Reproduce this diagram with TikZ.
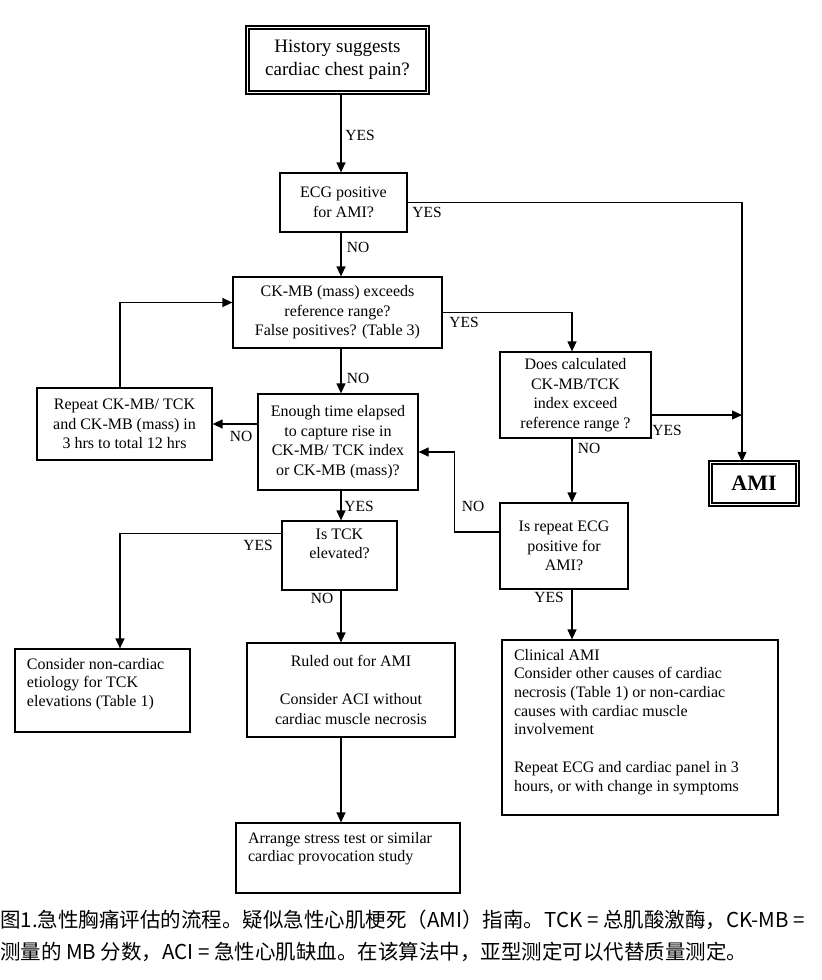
\documentclass[tikz,border=0pt]{standalone}
\usepackage{fontspec}
\setmainfont{Liberation Serif}
\newfontfamily\cjk{Noto Sans CJK SC}
\usetikzlibrary{arrows.meta}

\newcommand{\topbox}[4][\raggedright]{\parbox[c][#3][t]{#2}{#1#4}}

\begin{document}
\begin{tikzpicture}[x=1pt, y=-1pt,
  box/.style={draw, line width=1.2pt, align=center, inner sep=0pt,
              font=\fontsize{16}{19.5}\selectfont},
  endbox/.style={box, double, double distance=1.8pt, line width=1.4pt},
  note/.style={draw, line width=1.2pt, inner xsep=12pt, inner ysep=9pt,
               font=\fontsize{16}{18.7}\selectfont},
  lbl/.style={inner sep=1pt, font=\fontsize{15.5}{18}\selectfont},
  arr/.style={-{Triangle[length=10pt, width=9pt]}, line width=1.2pt},
]
\fill[white] (0,0) rectangle (822,980);
\useasboundingbox (0,0) rectangle (822,980);

\coordinate (mcol) at (341,0);
\coordinate (rcol) at (572,0);
\coordinate (acol) at (742,0);
\coordinate (lcol) at (120,0);

\node[endbox, minimum width=180pt, minimum height=65pt, font=\fontsize{19}{23}\selectfont]
  (hist) at (337.5,60) {History suggests\\cardiac chest pain?};
\node[box, minimum width=127pt, minimum height=59pt] (ecg) at (343.5,202.5) {ECG positive\\for AMI?};
\node[box, minimum width=209pt, minimum height=71pt] (ckmb) at (337.5,312.5)
  {CK-MB (mass) exceeds\\reference range?\\False positives? (Table 3)};
\node[box, minimum width=175pt, minimum height=72pt] (rept) at (124.5,424)
  {Repeat CK-MB/ TCK\\and CK-MB (mass) in\\3 hrs to total 12 hrs};
\node[box, minimum width=160pt, minimum height=96pt] (enough) at (338,442)
  {Enough time elapsed\\to capture rise in\\CK-MB/ TCK index\\or CK-MB (mass)?};
\node[box, minimum width=151pt, minimum height=86pt] (does) at (575.5,395)
  {Does calculated\\CK-MB/TCK\\index exceed\\reference range ?};
\node[endbox, minimum width=87pt, minimum height=42pt, font=\fontsize{22}{24}\selectfont\bfseries]
  (ami) at (754,483.5) {AMI};
\node[note, inner xsep=0pt, inner ysep=8pt] (tck) at (339.5,555.5)
  {\topbox[\centering]{115pt}{53pt}{Is TCK\\elevated?}};
\node[box, minimum width=128pt, minimum height=86pt] (rep) at (564,546)
  {Is repeat ECG\\positive for\\AMI?};
\node[note] (noncard) at (102.5,690.5)
  {\topbox{151pt}{65pt}{Consider non-cardiac\\etiology for TCK\\elevations (Table 1)}};
\node[box, minimum width=208pt, minimum height=94pt] (ruled) at (351,690)
  {Ruled out for AMI\\[18.5pt]Consider ACI without\\cardiac muscle necrosis};
\node[note] (clin) at (640,727.5)
  {\topbox{252pt}{157pt}{Clinical AMI\\Consider other causes of cardiac\\necrosis (Table 1) or non-cardiac\\causes with cardiac muscle\\involvement\\[18.7pt]Repeat ECG and cardiac panel in 3\\hours, or with change in symptoms}};
\node[note] (arrange) at (348,858)
  {\topbox{200pt}{52pt}{Arrange stress test or similar\\cardiac provocation study}};

\foreach \a/\b in {hist/ecg, ecg/ckmb, ckmb/enough, enough/tck, tck/ruled, ruled/arrange} {
  \draw[arr] (\a.south -| mcol) -- (\b.north -| mcol);
}
\draw[arr] (ecg.east) -| (ami.north -| acol);
\draw[arr] (ckmb.east) -| (does.north -| rcol);
\draw[arr] ([yshift=-20pt]does.east) -- ([yshift=-20pt]does.east -| acol);
\draw[arr] (does.south -| rcol) -- (rep.north -| rcol);
\draw[arr] (rep.south -| rcol) -- (clin.north -| rcol);
\draw[arr] (enough.west |- rept.east) -- (rept.east);
\draw[arr] (rept.north -| lcol) |- ([yshift=10pt]ckmb.west);
\draw[arr] ([yshift=14pt]rep.west) -- ++(-45,0) |- ([yshift=-10pt]enough.east);
\draw[arr] ([yshift=22pt]tck.west) -| (noncard.north -| lcol);

\node[lbl] (yes1) at (360,135) {YES};
\node[lbl] (yes2) at (427,212) {YES};
\node[lbl] (no1) at (358,247) {NO};
\node[lbl] (yes3) at (464,322) {YES};
\node[lbl] (no2) at (358,378) {NO};
\node[lbl] (no3) at (241,436) {NO};
\node[lbl] (yes4) at (667,430) {YES};
\node[lbl] (no4) at (589,448) {NO};
\node[lbl] (yes5) at (359,506) {YES};
\node[lbl] (yes6) at (258,545) {YES};
\node[lbl] (no5) at (473,506) {NO};
\node[lbl] (no6) at (322,598) {NO};
\node[lbl] (yes7) at (549,597) {YES};

\node[anchor=north west, inner sep=0pt, align=left, font=\cjk\fontsize{20.5}{32}\selectfont]
  (cap) at (0,910) {图1.急性胸痛评估的流程。疑似急性心肌梗死（AMI）指南。TCK = 总肌酸激酶，CK-MB =\\测量的 MB 分数，ACI = 急性心肌缺血。在该算法中，亚型测定可以代替质量测定。};

\end{tikzpicture}
\end{document}
